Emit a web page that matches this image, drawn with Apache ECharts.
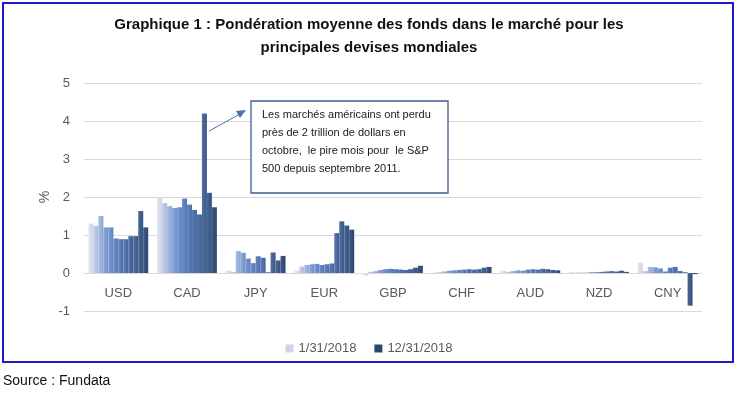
<!DOCTYPE html>
<html>
<head>
<meta charset="utf-8">
<script src="https://cdn.jsdelivr.net/npm/echarts@6/dist/echarts.min.js"></script>
<style>
html,body{margin:0;padding:0;background:#fff;}
#c{width:738px;height:395px;}
</style>
</head>
<body>
<div id="c"></div>
<script>
const categories = ['USD','CAD','JPY','EUR','GBP','CHF','AUD','NZD','CNY'];
const months = ['1/31/2018','2/28/2018','3/31/2018','4/30/2018','5/31/2018','6/30/2018','7/31/2018','8/31/2018','9/30/2018','10/31/2018','11/30/2018','12/31/2018'];
const usd = [1.30, 1.24, 1.50, 1.20, 1.20, 0.91, 0.89, 0.89, 0.97, 0.97, 1.63, 1.20];
const cad = [1.98, 1.84, 1.76, 1.71, 1.73, 1.96, 1.80, 1.66, 1.54, 4.20, 2.11, 1.73];
const jpy = [0.06, 0.03, 0.58, 0.53, 0.38, 0.26, 0.44, 0.40, 0.02, 0.54, 0.33, 0.45];
const eur = [0.06, 0.17, 0.21, 0.23, 0.24, 0.21, 0.23, 0.25, 1.05, 1.36, 1.25, 1.14];
const gbp = [-0.07, 0.03, 0.05, 0.08, 0.10, 0.11, 0.10, 0.09, 0.08, 0.10, 0.14, 0.19];
const chf = [0.01, 0.02, 0.04, 0.06, 0.07, 0.08, 0.09, 0.10, 0.09, 0.10, 0.14, 0.16];
const aud = [0.06, 0.03, 0.05, 0.07, 0.06, 0.09, 0.10, 0.09, 0.11, 0.10, 0.08, 0.07];
const nzd = [0.02, 0.01, 0.01, 0.01, 0.02, 0.02, 0.03, 0.04, 0.05, 0.04, 0.06, 0.03];
const cny = [0.27, 0.05, 0.16, 0.15, 0.12, 0.04, 0.14, 0.16, 0.05, 0.02, -0.86, -0.03];
const yTicks = [-1, 0, 1, 2, 3, 4, 5];

const byCurrency = [usd, cad, jpy, eur, gbp, chf, aud, nzd, cny];
const colors = ['#cdd5e6','#a9badb','#8ba4d2','#6d8ec9','#5c80c1','#5075b6','#4a6dab','#43649f','#3e5c94','#3a578b','#34507f','#2b4570'];
const lightTop = ['#dfe5f0','#c2d0e8','#a9bee2','#8fa9da','#7e9cd3','#7090c9','#6788bf','#5e7fb3','#5776a8','#52709e','#4b6893','#3f5a84'];

const series = months.map((m, i) => ({
  name: m,
  type: 'bar',
  barGap: '0%',
  barCategoryGap: '13%',
  data: byCurrency.map(arr => arr[i]),
  itemStyle: {
    color: new echarts.graphic.LinearGradient(0, 0, 1, 0, [
      {offset: 0, color: lightTop[i]},
      {offset: 1, color: colors[i]}
    ])
  },
  emphasis: {disabled: true}
}));

const chart = echarts.init(document.getElementById('c'), null, {renderer: 'canvas'});
chart.setOption({
  animation: false,
  backgroundColor: '#fff',
  title: {
    text: 'Graphique 1 : Pondération moyenne des fonds dans le marché pour les\nprincipales devises mondiales',
    left: 'center',
    top: 8,
    textStyle: {fontFamily: 'Liberation Sans', fontSize: 15, fontWeight: 'bold', color: '#111', lineHeight: 23}
  },
  legend: {
    data: [
      {name: '1/31/2018', itemStyle: {color: colors[0]}},
      {name: '12/31/2018', itemStyle: {color: colors[11]}}
    ],
    left: 'center',
    top: 337,
    icon: 'rect',
    itemWidth: 8,
    itemHeight: 8,
    itemGap: 18,
    textStyle: {fontFamily: 'Liberation Sans', fontSize: 13, color: '#595959'}
  },
  grid: {left: 84, right: 36, top: 83, bottom: 84},
  xAxis: {
    type: 'category',
    data: categories,
    offset: -38,
    axisLine: {onZero: false, lineStyle: {color: '#d9d9d9'}},
    axisTick: {show: false},
    axisLabel: {fontFamily: 'Liberation Sans', fontSize: 13, color: '#595959', margin: 14}
  },
  yAxis: {
    type: 'value',
    min: yTicks[0],
    max: yTicks[yTicks.length - 1],
    interval: 1,
    name: '%',
    nameLocation: 'middle',
    nameGap: 32,
    nameMoveOverlap: false,
    nameRotate: 90,
    nameTextStyle: {fontFamily: 'Liberation Sans', fontSize: 14, color: '#595959'},
    axisLine: {show: false},
    axisTick: {show: false},
    axisLabel: {fontFamily: 'Liberation Sans', fontSize: 13, color: '#595959', margin: 14},
    splitLine: {lineStyle: {color: '#d9d9d9'}}
  },
  series: series,
  graphic: [
    {type: 'rect', shape: {x: 3, y: 3, width: 730, height: 359}, style: {fill: 'none', stroke: '#1c1cc8', lineWidth: 2}, z: 100},
    {type: 'line', shape: {x1: 209, y1: 131, x2: 240, y2: 114}, style: {stroke: '#4a72b0', lineWidth: 1}, z: 100},
    {type: 'polygon', shape: {points: [[246, 110], [236, 111], [240, 118]]}, style: {fill: '#4a72b0'}, z: 100},
    {type: 'rect', shape: {x: 251, y: 101, width: 197, height: 92}, style: {fill: '#fff', stroke: '#3b5f8e', lineWidth: 1.3}, z: 100},
    {type: 'text', x: 262, y: 106, z: 101, style: {
      text: 'Les marchés américains ont perdu\nprès de 2 trillion de dollars en\noctobre,  le pire mois pour  le S&P\n500 depuis septembre 2011.',
      fontFamily: 'Liberation Sans', fontSize: 11, lineHeight: 18, fill: '#1a1a1a'
    }},
    {type: 'text', x: 3, y: 374, z: 101, style: {text: 'Source : Fundata', fontFamily: 'Liberation Sans', fontSize: 14, fill: '#111'}}
  ]
});
</script>
</body>
</html>
